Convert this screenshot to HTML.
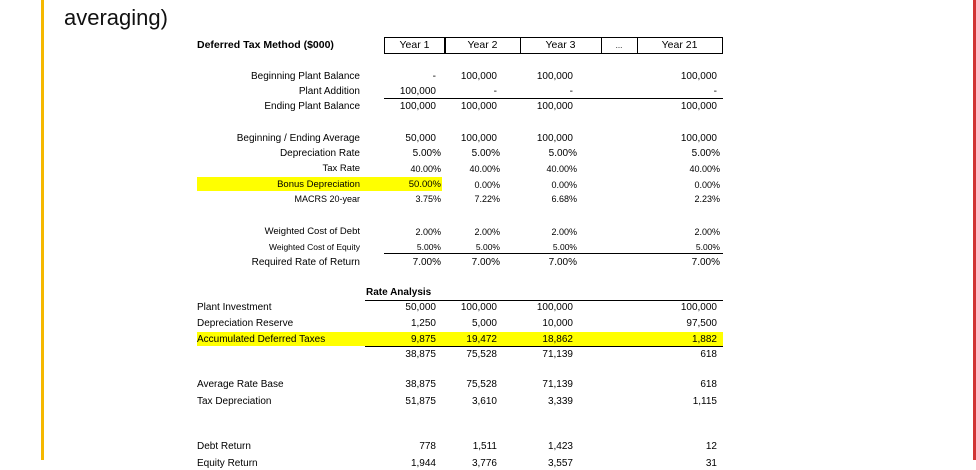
<!DOCTYPE html>
<html><head><style>
body{margin:0;width:976px;height:460px;overflow:hidden;background:#fff;position:relative;font-family:"Liberation Sans",Arial,sans-serif;color:#000}
.a{position:absolute;white-space:nowrap;font-size:10px;line-height:12px}
.r{position:absolute;height:12px;left:0;width:976px}
.r span{position:absolute;font-size:10px;line-height:12px;white-space:nowrap;top:0}
.L{right:616px;text-align:right}
.l{left:197px}
.c1{right:540px}.c2{right:479px}.c3{right:403px}.c4{right:259px}
.p1{right:535px}.p2{right:476px}.p3{right:399px}.p4{right:256px}
.hl{position:absolute;height:1px;background:#000}
.y{position:absolute;background:#ffff00}
.box{position:absolute;top:37px;height:15px;border:1px solid #000;font-size:10.5px;line-height:15px;text-align:center;box-sizing:content-box}
</style></head><body>
<div style="position:absolute;left:41px;top:0;width:3px;height:460px;background:#f5b800"></div>
<div style="position:absolute;left:973px;top:0;width:3px;height:460px;background:#d13434"></div>
<div class="a" style="left:64px;top:5px;font-size:22px;line-height:26px;color:#111">averaging)</div>

<div class="a" style="left:197px;top:39px;font-weight:bold;font-size:10.5px">Deferred Tax Method ($000)</div>
<div class="box" style="left:384px;width:59px;border-right:2px solid #000">Year 1</div>
<div class="box" style="left:445px;width:75px;border-left:none">Year 2</div>
<div class="box" style="left:520px;width:81px;border-left:none">Year 3</div>
<div class="box" style="left:601px;width:36px;border-left:none;font-size:8px">...</div>
<div class="box" style="left:637px;width:85px;border-left:none">Year 21</div>

<div class="r" style="top:71px"><span class="L">Beginning Plant Balance</span><span class="c1">-</span><span class="c2">100,000</span><span class="c3">100,000</span><span class="c4">100,000</span></div>
<div class="r" style="top:86px"><span class="L">Plant Addition</span><span class="c1">100,000</span><span class="c2">-</span><span class="c3">-</span><span class="c4">-</span></div>
<div class="hl" style="left:384px;width:339px;top:98px"></div>
<div class="r" style="top:101px"><span class="L">Ending Plant Balance</span><span class="c1">100,000</span><span class="c2">100,000</span><span class="c3">100,000</span><span class="c4">100,000</span></div>

<div class="r" style="top:133px"><span class="L">Beginning / Ending Average</span><span class="c1">50,000</span><span class="c2">100,000</span><span class="c3">100,000</span><span class="c4">100,000</span></div>
<div class="r" style="top:148px"><span class="L">Depreciation Rate</span><span class="p1">5.00%</span><span class="p2">5.00%</span><span class="p3">5.00%</span><span class="p4">5.00%</span></div>
<div class="r" style="top:163px"><span class="L" style="font-size:9.5px">Tax Rate</span><span class="p1" style="font-size:9px">40.00%</span><span class="p2" style="font-size:9px">40.00%</span><span class="p3" style="font-size:9px">40.00%</span><span class="p4" style="font-size:9px">40.00%</span></div>
<div class="y" style="left:197px;top:177px;width:245px;height:14px"></div>
<div class="r" style="top:179px"><span class="L" style="font-size:9.5px">Bonus Depreciation</span><span class="p1" style="font-size:9.5px">50.00%</span><span class="p2" style="font-size:9px">0.00%</span><span class="p3" style="font-size:9px">0.00%</span><span class="p4" style="font-size:9px">0.00%</span></div>
<div class="r" style="top:193px"><span class="L" style="font-size:9px">MACRS 20-year</span><span class="p1" style="font-size:9px">3.75%</span><span class="p2" style="font-size:9px">7.22%</span><span class="p3" style="font-size:9px">6.68%</span><span class="p4" style="font-size:9px">2.23%</span></div>

<div class="r" style="top:226px"><span class="L" style="font-size:9.5px">Weighted Cost of Debt</span><span class="p1" style="font-size:9px">2.00%</span><span class="p2" style="font-size:9px">2.00%</span><span class="p3" style="font-size:9px">2.00%</span><span class="p4" style="font-size:9px">2.00%</span></div>
<div class="r" style="top:241px"><span class="L" style="font-size:8.5px">Weighted Cost of Equity</span><span class="p1" style="font-size:8.5px">5.00%</span><span class="p2" style="font-size:8.5px">5.00%</span><span class="p3" style="font-size:8.5px">5.00%</span><span class="p4" style="font-size:8.5px">5.00%</span></div>
<div class="hl" style="left:384px;width:339px;top:253px"></div>
<div class="r" style="top:257px"><span class="L">Required Rate of Return</span><span class="p1">7.00%</span><span class="p2">7.00%</span><span class="p3">7.00%</span><span class="p4">7.00%</span></div>

<div class="a" style="left:366px;top:287px;font-weight:bold">Rate Analysis</div>
<div class="hl" style="left:365px;width:358px;top:300px"></div>
<div class="r" style="top:302px"><span class="l">Plant Investment</span><span class="c1">50,000</span><span class="c2">100,000</span><span class="c3">100,000</span><span class="c4">100,000</span></div>
<div class="r" style="top:318px"><span class="l">Depreciation Reserve</span><span class="c1">1,250</span><span class="c2">5,000</span><span class="c3">10,000</span><span class="c4">97,500</span></div>
<div class="y" style="left:197px;top:332px;width:526px;height:14px"></div>
<div class="r" style="top:334px"><span class="l">Accumulated Deferred Taxes</span><span class="c1">9,875</span><span class="c2">19,472</span><span class="c3">18,862</span><span class="c4">1,882</span></div>
<div class="hl" style="left:365px;width:358px;top:346px"></div>
<div class="r" style="top:349px"><span class="c1">38,875</span><span class="c2">75,528</span><span class="c3">71,139</span><span class="c4">618</span></div>

<div class="r" style="top:379px"><span class="l">Average Rate Base</span><span class="c1">38,875</span><span class="c2">75,528</span><span class="c3">71,139</span><span class="c4">618</span></div>
<div class="r" style="top:396px"><span class="l">Tax Depreciation</span><span class="c1">51,875</span><span class="c2">3,610</span><span class="c3">3,339</span><span class="c4">1,115</span></div>

<div class="r" style="top:441px"><span class="l">Debt Return</span><span class="c1">778</span><span class="c2">1,511</span><span class="c3">1,423</span><span class="c4">12</span></div>
<div class="r" style="top:458px"><span class="l">Equity Return</span><span class="c1">1,944</span><span class="c2">3,776</span><span class="c3">3,557</span><span class="c4">31</span></div>
</body></html>
